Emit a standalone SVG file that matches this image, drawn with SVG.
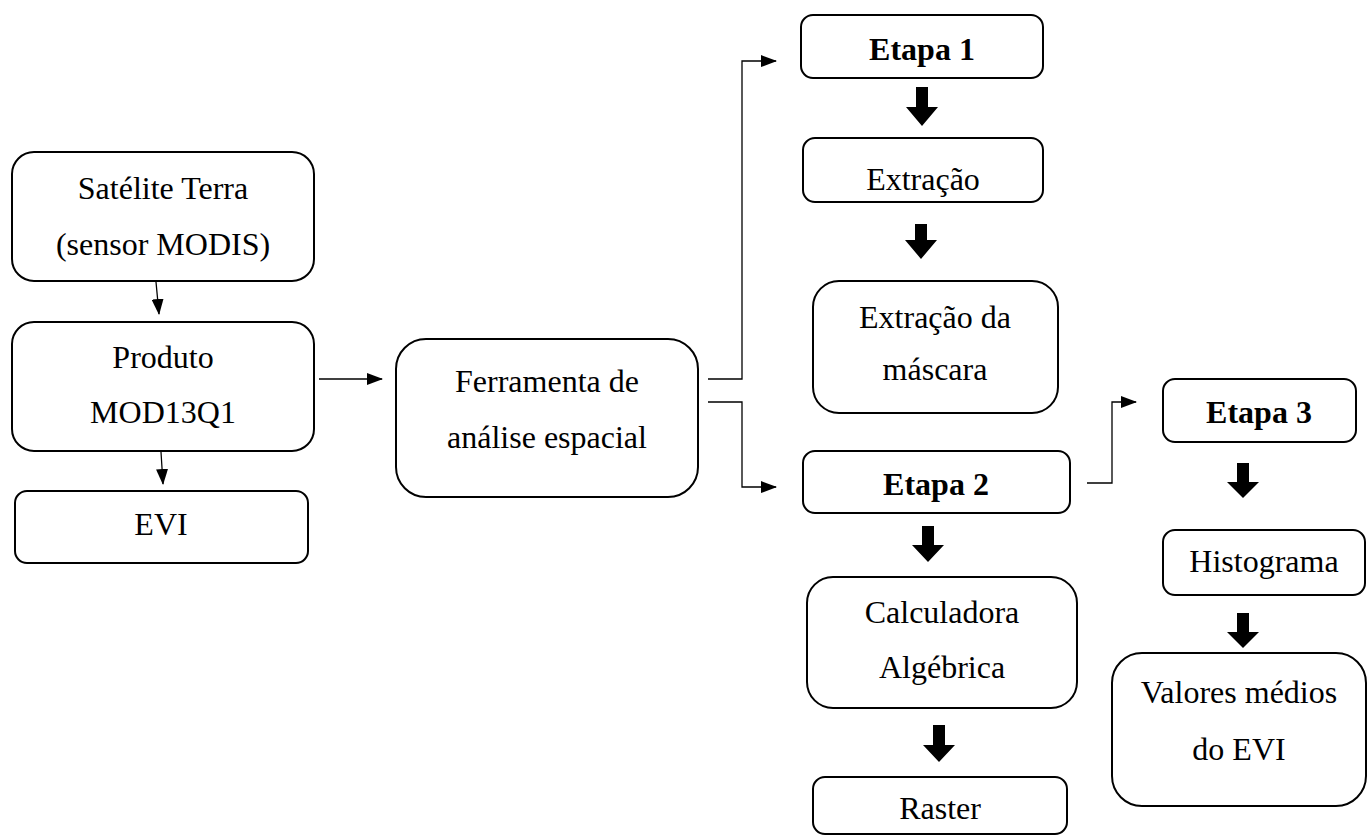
<svg xmlns="http://www.w3.org/2000/svg" width="1369" height="836" viewBox="0 0 1369 836">
<style>
.box{fill:#fff;stroke:#000;stroke-width:2}
.t{font-family:"Liberation Serif","Times New Roman",serif;font-size:32px;fill:#000;text-anchor:middle}
.b{font-weight:bold}
.c{fill:none;stroke:#000;stroke-width:1.3}
.blk{fill:#000}
</style>
<defs>
<marker id="ah" markerWidth="16" markerHeight="12" refX="15" refY="6" orient="auto" markerUnits="userSpaceOnUse">
<path d="M0,0 L16,6 L0,12 Z" fill="#000"/>
</marker>
</defs>
<rect width="1369" height="836" fill="#fff"/>
<g id="connectors">
<path class="c" d="M156,282 L159,314" marker-end="url(#ah)"/>
<path class="c" d="M161,452 L163,484" marker-end="url(#ah)"/>
<path class="c" d="M319,379 L382,379" marker-end="url(#ah)"/>
<path class="c" d="M708,379 L742,379 L742,61 L776,61" marker-end="url(#ah)"/>
<path class="c" d="M708,402 L742,402 L742,487 L776,487" marker-end="url(#ah)"/>
<path class="c" d="M1087,483 L1112,483 L1112,402 L1136,402" marker-end="url(#ah)"/>
<path class="blk" d="M916,87 h12 v20 h10 l-16,19 l-16,-19 h10 Z"/>
<path class="blk" d="M915,224 h12 v16 h10 l-16,19 l-16,-19 h10 Z"/>
<path class="blk" d="M922,526 h12 v19 h10 l-16,17 l-16,-17 h10 Z"/>
<path class="blk" d="M933,725 h12 v20 h10 l-16,17 l-16,-17 h10 Z"/>
<path class="blk" d="M1237,463 h12 v19 h10 l-16,16 l-16,-16 h10 Z"/>
<path class="blk" d="M1237,613 h12 v19 h10 l-16,16 l-16,-16 h10 Z"/>
</g>
<g id="satelite">
<rect class="box" x="12" y="152" width="302" height="129" rx="22"/>
<text class="t" x="163" y="199">Satélite Terra</text>
<text class="t" x="163" y="255">(sensor MODIS)</text>
</g>
<g id="produto">
<rect class="box" x="12" y="322" width="302" height="129" rx="22"/>
<text class="t" x="163" y="368">Produto</text>
<text class="t" x="163" y="423">MOD13Q1</text>
</g>
<g id="evi">
<rect class="box" x="15" y="491" width="293" height="72" rx="12"/>
<text class="t" x="161" y="535">EVI</text>
</g>
<g id="ferramenta">
<rect class="box" x="396" y="339" width="302" height="158" rx="30"/>
<text class="t" x="547" y="392">Ferramenta de</text>
<text class="t" x="547" y="448">análise espacial</text>
</g>
<g id="etapa1">
<rect class="box" x="801" y="15" width="242" height="63" rx="12"/>
<text class="t b" x="922" y="60">Etapa 1</text>
</g>
<g id="extracao">
<rect class="box" x="803" y="138" width="240" height="64" rx="12"/>
<text class="t" x="923" y="190">Extração</text>
</g>
<g id="mascara">
<rect class="box" x="813" y="281" width="245" height="132" rx="26"/>
<text class="t" x="935" y="328">Extração da</text>
<text class="t" x="935" y="380">máscara</text>
</g>
<g id="etapa2">
<rect class="box" x="803" y="451" width="267" height="62" rx="12"/>
<text class="t b" x="936" y="495">Etapa 2</text>
</g>
<g id="calculadora">
<rect class="box" x="807" y="577" width="270" height="131" rx="26"/>
<text class="t" x="942" y="623">Calculadora</text>
<text class="t" x="942" y="678">Algébrica</text>
</g>
<g id="raster">
<rect class="box" x="813" y="777" width="254" height="57" rx="12"/>
<text class="t" x="940" y="819">Raster</text>
</g>
<g id="etapa3">
<rect class="box" x="1163" y="379" width="193" height="63" rx="12"/>
<text class="t b" x="1259" y="423">Etapa 3</text>
</g>
<g id="histograma">
<rect class="box" x="1163" y="530" width="202" height="65" rx="12"/>
<text class="t" x="1264" y="572">Histograma</text>
</g>
<g id="valores">
<rect class="box" x="1112" y="653" width="254" height="153" rx="30"/>
<text class="t" x="1239" y="703">Valores médios</text>
<text class="t" x="1239" y="760">do EVI</text>
</g>
</svg>
